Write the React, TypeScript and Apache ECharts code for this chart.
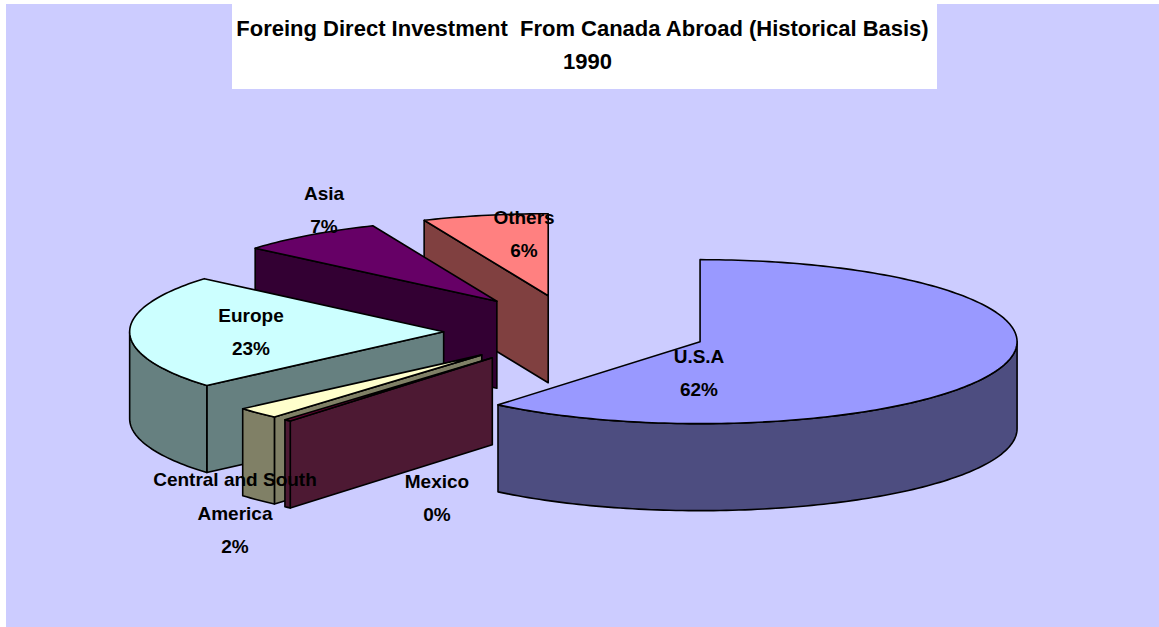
import React, { useEffect, useRef } from "react";
import * as echarts from "echarts";

const categories = ["U.S.A", "Mexico", "Central and South\nAmerica", "Europe", "Asia", "Others"];
const shares = [61.0, 0.35, 2.25, 22.6, 7.4, 6.4];
const percentLabels = ["62%", "0%", "2%", "23%", "7%", "6%"];
const titleLines = ["Foreing Direct Investment  From Canada Abroad (Historical Basis)", "1990"];

const topColors = ["#9999FF", "#660033", "#FFFFCC", "#CCFFFF", "#660066", "#FF8080"];
const sideColors = ["#4D4D80", "#4D1933", "#808066", "#668080", "#330033", "#804040"];
const labelCentres = [
  [699, 373],
  [437, 498],
  [235, 513],
  [251, 332],
  [324, 210],
  [524, 234],
];
// Small per-wedge layout corrections: the reference is drawn in perspective.
const apexNudge = [
  [0, 0.5],
  [3.5, 2],
  [1, 1],
  [2, 2],
  [1, -0.5],
  [0, 0],
];
const wedgeRadiusX = [317, 317, 317, 314, 317, 317];

const W = 1159;
const H = 627;
const CX = 574.8;
const CY = 329.5;
const RY = 82;
const DEPTH = 87;
const EXPLODE = 0.42;
const FONT = "Liberation Sans";

type Pt = [number, number];
type Wedge = { i: number; start: number; end: number; mid: number; ax: number; ay: number; rx: number };

const total = shares.reduce((a, b) => a + b, 0);
const wedges: Wedge[] = (() => {
  let acc = 0;
  return shares.map((s, i) => {
    const start = (acc / total) * Math.PI * 2;
    acc += s;
    const end = (acc / total) * Math.PI * 2;
    const mid = (start + end) / 2;
    const ax = CX + EXPLODE * 317 * Math.sin(mid) + apexNudge[i][0];
    const ay = CY - EXPLODE * RY * Math.cos(mid) + apexNudge[i][1];
    return { i, start, end, mid, ax, ay, rx: wedgeRadiusX[i] };
  });
})();
// Painted from the back of the pie to the front.
const paintOrder = wedges.slice().sort((a, b) => Math.cos(b.mid) - Math.cos(a.mid)).map((w) => w.i);

function rimPoint(w: Wedge, t: number): Pt {
  return [w.ax + w.rx * Math.sin(t), w.ay - RY * Math.cos(t)];
}
function arc(w: Wedge, a: number, b: number): Pt[] {
  const n = Math.max(2, Math.ceil((b - a) / 0.02));
  const out: Pt[] = [];
  for (let k = 0; k <= n; k++) out.push(rimPoint(w, a + ((b - a) * k) / n));
  return out;
}
const drop = (pts: Pt[]): Pt[] => pts.slice().reverse().map(([x, y]) => [x, y + DEPTH] as Pt);

function wedgeElements(i: number) {
  const w = wedges[i];
  const line = { stroke: "#000", lineWidth: 1.6, lineJoin: "round" };
  const sideStyle = { fill: sideColors[i], ...line };
  const children: any[] = [];
  const apex: Pt = [w.ax, w.ay];
  const face = (p: Pt) => ({
    type: "polygon",
    shape: { points: [apex, p, ...drop([apex, p])] },
    style: sideStyle,
  });
  if (Math.sin(w.end) > 0.001) children.push(face(rimPoint(w, w.end)));
  if (Math.sin(w.start) < -0.001) children.push(face(rimPoint(w, w.start)));
  const a = Math.max(w.start, Math.PI / 2);
  const b = Math.min(w.end, (Math.PI * 3) / 2);
  if (b > a) {
    const rim = arc(w, a, b);
    children.push({ type: "polygon", shape: { points: [...rim, ...drop(rim)] }, style: sideStyle });
  }
  children.push({
    type: "polygon",
    shape: { points: [apex, ...arc(w, w.start, w.end)] },
    style: { fill: topColors[i], ...line },
  });
  return children;
}

export default function App() {
  const ref = useRef<HTMLDivElement>(null);
  useEffect(() => {
    document.body.style.margin = "0";
    const chart = echarts.init(ref.current!, undefined, { renderer: "svg" });
    const titleStyle = { fontFamily: FONT, fontSize: 22, fontWeight: "bold", color: "#000", lineHeight: 33 };
    chart.setOption({
      animation: false,
      backgroundColor: "#FFFFFF",
      title: [
        { text: titleLines[0], left: 577.5, top: 7, textAlign: "center", textStyle: titleStyle },
        { text: titleLines[1], left: 582.5, top: 40, textAlign: "center", textStyle: titleStyle },
      ],
      graphic: [
        { type: "rect", z: 0, shape: { x: 6, y: 4, width: W - 6, height: H - 4 }, style: { fill: "#CCCCFF" } },
        { type: "rect", z: 1, shape: { x: 232, y: 0, width: 705, height: 89 }, style: { fill: "#FFFFFF" } },
      ],
      series: [
        {
          type: "custom",
          coordinateSystem: "none",
          silent: true,
          z: 2,
          data: paintOrder.map((i) => ({ name: categories[i], value: shares[i] })),
          renderItem: (params: any) => ({
            type: "group",
            children: wedgeElements(paintOrder[params.dataIndex]),
          }),
        },
        {
          type: "custom",
          coordinateSystem: "none",
          silent: true,
          z: 3,
          data: categories.map((c, i) => ({ name: c, value: shares[i] })),
          renderItem: (params: any) => {
            const i = params.dataIndex;
            return {
              type: "text",
              x: labelCentres[i][0],
              y: labelCentres[i][1],
              style: {
                text: categories[i] + "\n" + percentLabels[i],
                fontFamily: FONT,
                fontSize: 19,
                fontWeight: "bold",
                lineHeight: 33.5,
                fill: "#000",
                align: "center",
                verticalAlign: "middle",
              },
            };
          },
        },
      ],
    });
    return () => chart.dispose();
  }, []);
  return <div ref={ref} style={{ width: W, height: H }} />;
}
